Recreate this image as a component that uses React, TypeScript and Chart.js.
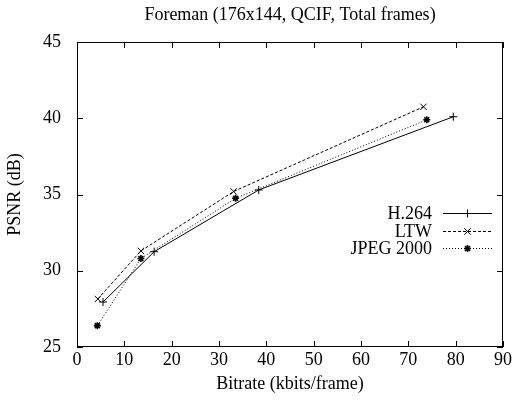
import React, { useEffect, useRef } from "react";
import { Chart, registerables } from "chart.js";

Chart.register(...registerables);

const titleText = "Foreman (176x144, QCIF, Total frames)";
const xTitle = "Bitrate (kbits/frame)";
const yTitle = "PSNR (dB)";
const seriesNames = ["H.264", "LTW", "JPEG 2000"];

const h264X = [5.5, 16.3, 38.4, 79.5];
const h264Y = [27.95, 31.25, 35.3, 40.1];
const ltwX = [4.4, 13.5, 33.1, 73.2];
const ltwY = [28.15, 31.3, 35.2, 40.75];
const jpegX = [4.3, 13.5, 33.5, 73.9];
const jpegY = [26.4, 30.8, 34.75, 39.9];

const xMin = 0, xMax = 90, xStep = 10;
const yMin = 25, yMax = 45, yStep = 5;

const FONT = "'Liberation Serif', 'DejaVu Serif', serif";
const FS = 18;

function toPoints(xs: number[], ys: number[]) {
  return xs.map((x, i) => ({ x, y: ys[i] }));
}

function drawMarker(ctx: CanvasRenderingContext2D, style: string, x: number, y: number, r: number) {
  ctx.beginPath();
  if (style === "cross" || style === "star") {
    ctx.moveTo(x - r, y); ctx.lineTo(x + r, y);
    ctx.moveTo(x, y - r); ctx.lineTo(x, y + r);
  }
  if (style === "crossRot" || style === "star") {
    const d = r * 0.72;
    ctx.moveTo(x - d, y - d); ctx.lineTo(x + d, y + d);
    ctx.moveTo(x - d, y + d); ctx.lineTo(x + d, y - d);
  }
  ctx.stroke();
}

const frameAndLegend = {
  id: "frameAndLegend",
  afterDatasetsDraw(chart: any) {
    const { ctx, chartArea } = chart;
    const { left, right, top, bottom } = chartArea;
    const xs = chart.scales.x;
    const ys = chart.scales.y;
    ctx.save();
    ctx.strokeStyle = "#000";
    ctx.lineWidth = 1;
    ctx.setLineDash([]);
    ctx.strokeRect(left + 0.5, top + 0.5, right - left - 1, bottom - top - 1);
    const tl = 6;
    ctx.beginPath();
    xs.ticks.forEach((t: any) => {
      const px = Math.round(xs.getPixelForValue(t.value)) + 0.5;
      ctx.moveTo(px, bottom); ctx.lineTo(px, bottom - tl);
      ctx.moveTo(px, top); ctx.lineTo(px, top + tl);
    });
    ys.ticks.forEach((t: any) => {
      const py = Math.round(ys.getPixelForValue(t.value)) + 0.5;
      ctx.moveTo(left, py); ctx.lineTo(left + tl, py);
      ctx.moveTo(right, py); ctx.lineTo(right - tl, py);
    });
    ctx.stroke();

    // legend
    const textRight = 432;
    const lineL = 443, lineR = 492;
    const y0 = 213, dy = 17.5;
    ctx.font = FS + "px " + FONT;
    ctx.textAlign = "right";
    ctx.textBaseline = "middle";
    ctx.fillStyle = "#000";
    chart.data.datasets.forEach((ds: any, i: number) => {
      const y = Math.round(y0 + i * dy) + 0.5;
      ctx.fillText(ds.label, textRight, y + 1);
      ctx.lineWidth = 1;
      ctx.setLineDash(ds.borderDash || []);
      ctx.beginPath();
      ctx.moveTo(lineL, y); ctx.lineTo(lineR, y);
      ctx.stroke();
      ctx.setLineDash([]);
      ctx.lineWidth = ds.pointBorderWidth || 1;
      drawMarker(ctx, ds.pointStyle, (lineL + lineR) / 2, y, ds.pointRadius);
    });
    ctx.restore();
  },
};

export default function App() {
  const ref = useRef<HTMLCanvasElement | null>(null);
  useEffect(() => {
    document.body.style.margin = "0";
    if (!ref.current) return;
    const chart = new Chart(ref.current, {
      type: "line",
      data: {
        datasets: [
          {
            label: seriesNames[0],
            data: toPoints(h264X, h264Y),
            borderColor: "#000",
            backgroundColor: "#000",
            borderWidth: 1,
            borderDash: [],
            pointStyle: "cross",
            pointRadius: 4,
            pointBorderWidth: 1,
            pointBorderColor: "#000",
            fill: false,
            tension: 0,
          },
          {
            label: seriesNames[1],
            data: toPoints(ltwX, ltwY),
            borderColor: "#000",
            backgroundColor: "#000",
            borderWidth: 1,
            borderDash: [3, 2],
            pointStyle: "crossRot",
            pointRadius: 4.5,
            pointBorderWidth: 1,
            pointBorderColor: "#000",
            fill: false,
            tension: 0,
          },
          {
            label: seriesNames[2],
            data: toPoints(jpegX, jpegY),
            borderColor: "#000",
            backgroundColor: "#000",
            borderWidth: 1,
            borderDash: [1, 2],
            pointStyle: "star",
            pointRadius: 3.5,
            pointBorderWidth: 1.6,
            pointBorderColor: "#000",
            fill: false,
            tension: 0,
          },
        ] as any,
      },
      options: {
        animation: false,
        responsive: true,
        maintainAspectRatio: false,
        layout: { padding: { left: 0, right: 11, top: 0, bottom: 0 } },
        plugins: {
          legend: { display: false },
          tooltip: { enabled: false },
          title: {
            display: true,
            fullSize: false,
            text: titleText,
            color: "#000",
            font: { family: FONT, size: FS, weight: "normal" },
            padding: { top: 4.2, bottom: 16.2 },
          },
        },
        scales: {
          x: {
            type: "linear",
            min: xMin,
            max: xMax,
            ticks: { stepSize: xStep, color: "#000", font: { family: FONT, size: FS }, padding: 2.5, maxRotation: 0 },
            grid: { display: false, drawTicks: false },
            border: { display: false },
            title: { display: true, text: xTitle, color: "#000", font: { family: FONT, size: FS }, padding: { top: 0, bottom: 9 } },
            afterFit: (s: any) => { s.height = 57; s.paddingLeft = 0; s.paddingRight = 0; },
          },
          y: {
            type: "linear",
            min: yMin,
            max: yMax,
            ticks: { stepSize: yStep, color: "#000", font: { family: FONT, size: FS }, padding: 16 },
            grid: { display: false, drawTicks: false },
            border: { display: false },
            title: { display: true, text: yTitle, color: "#000", font: { family: FONT, size: FS }, padding: { top: 4, bottom: 4 } },
            afterFit: (s: any) => { s.width = 77; s.paddingTop = 0; s.paddingBottom = 0; },
          },
        },
      },
      plugins: [frameAndLegend],
    });
    return () => chart.destroy();
  }, []);
  return (
    <div style={{ position: "fixed", left: 0, top: 0, width: 514, height: 404 }}>
      <canvas ref={ref} />
    </div>
  );
}
